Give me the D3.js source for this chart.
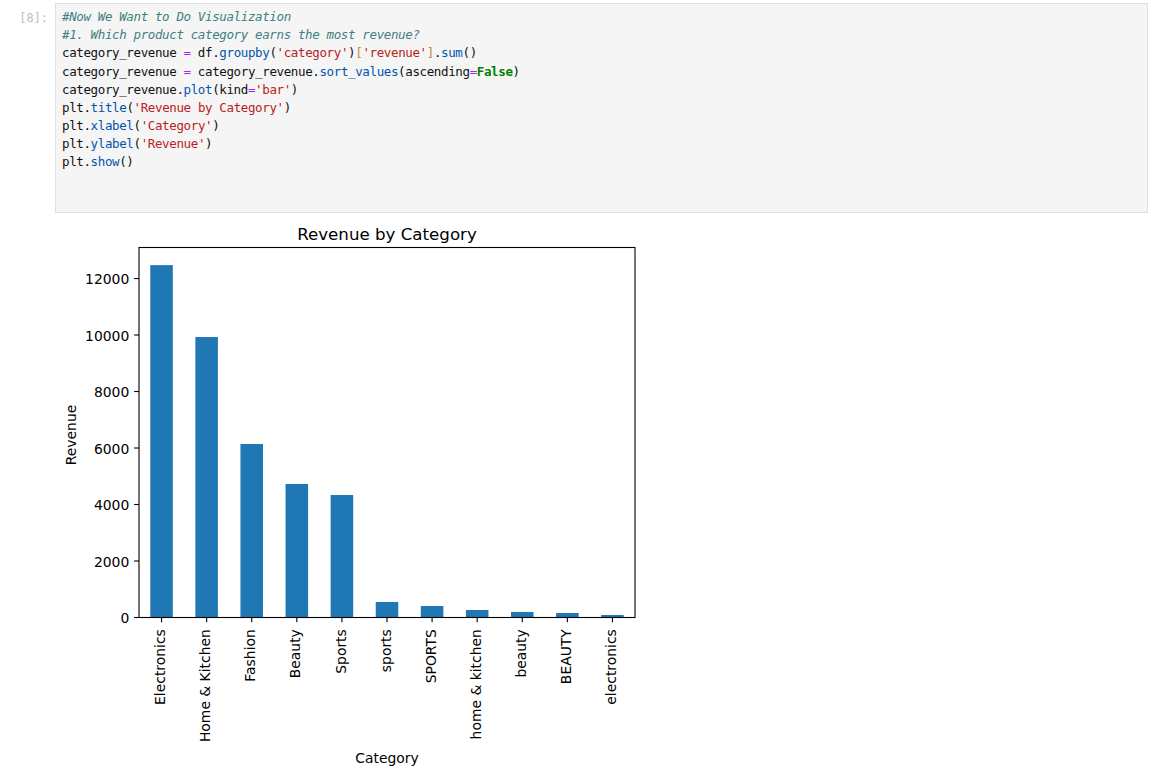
<!DOCTYPE html>
<html><head><meta charset="utf-8">
<script src="https://cdn.jsdelivr.net/npm/d3@7/dist/d3.min.js"></script>
<style>
html,body{margin:0;padding:0;background:#fff;overflow:hidden}
svg{display:block}
</style></head><body>
<svg id="page" width="1163" height="778"></svg>
<script>
const categories = ["Electronics","Home & Kitchen","Fashion","Beauty","Sports","sports","SPORTS","home & kitchen","beauty","BEAUTY","electronics"];
const revenue = [12474,9929,6142,4726,4336,549,407,265,195,159,88];
const yTicks = [0,2000,4000,6000,8000,10000,12000];
const titleText = "Revenue by Category";
const xLabelText = "Category";
const yLabelText = "Revenue";
const promptText = "[8]:";
const codeLines = [
 [["#Now We Want to Do Visualization","c"]],
 [["#1. Which product category earns the most revenue?","c"]],
 [["category_revenue ","n"],["=","o"],[" df.","n"],["groupby","p"],["(","n"],["'category'","s"],[")","n"],["[","b"],["'revenue'","s"],["]","b"],[".","n"],["sum","p"],["()","n"]],
 [["category_revenue ","n"],["=","o"],[" category_revenue.","n"],["sort_values","p"],["(ascending","n"],["=","o"],["False","k"],[")","n"]],
 [["category_revenue.","n"],["plot","p"],["(kind","n"],["=","o"],["'bar'","s"],[")","n"]],
 [["plt.","n"],["title","p"],["(","n"],["'Revenue by Category'","s"],[")","n"]],
 [["plt.","n"],["xlabel","p"],["(","n"],["'Category'","s"],[")","n"]],
 [["plt.","n"],["ylabel","p"],["(","n"],["'Revenue'","s"],[")","n"]],
 [["plt.","n"],["show","p"],["()","n"]]
];
const tokenColors = {c:"#408080",n:"#111111",o:"#aa22ff",p:"#0055aa",s:"#ba2121",b:"#c08a3a",k:"#008000"};

const svg = d3.select("#page");
const sans = "'DejaVu Sans'";
const mono = "'DejaVu Sans Mono'";

// notebook cell
svg.append("rect").attr("x",55.5).attr("y",3.5).attr("width",1092).attr("height",209)
  .attr("fill","#f5f5f5").attr("stroke","#e0e0e0");
svg.append("text").attr("x",48).attr("y",21.5).attr("text-anchor","end")
  .attr("font-family",mono).attr("font-size",11.9).attr("fill","#bdbdbd").text(promptText);

const lineY = d3.scaleLinear().domain([0,8]).range([21.2,166.2]);
const codeG = svg.append("g").attr("font-family",mono).attr("font-size",12.5).attr("letter-spacing",-0.375);
codeLines.forEach((tokens,i)=>{
  const t = codeG.append("text").attr("x",62).attr("y",lineY(i)).attr("xml:space","preserve").style("white-space","pre");
  tokens.forEach(([s,k])=>{
    t.append("tspan").text(s).attr("fill",tokenColors[k])
      .attr("font-style",k==="c"?"italic":null)
      .attr("font-weight",k==="k"?"bold":null);
  });
});

// chart
const m = {l:139,r:635,t:247.5,b:617.5};
const x = d3.scaleBand().domain(categories).range([m.l,m.r]).paddingInner(0.5).paddingOuter(0.25);
const y = d3.scaleLinear().domain([0,13098]).range([m.b,m.t]);

svg.append("g").selectAll("rect").data(categories).join("rect")
  .attr("x",d=>x(d)).attr("width",x.bandwidth())
  .attr("y",(d,i)=>y(revenue[i])).attr("height",(d,i)=>m.b-y(revenue[i]))
  .attr("fill","#1f77b4");

const yAxis = svg.append("g").attr("transform",`translate(${m.l},0)`)
  .call(d3.axisLeft(y).tickValues(yTicks).tickFormat(d3.format("d")).tickSize(4.86).tickPadding(4.86).offset(0));
yAxis.select(".domain").remove();
yAxis.selectAll("line").attr("stroke","#000").attr("stroke-width",1.1);
yAxis.selectAll("text").attr("font-family",sans).attr("font-size",13.9).attr("fill","#000").attr("dy","0.4em");

const xAxis = svg.append("g").attr("transform",`translate(0,${m.b})`)
  .call(d3.axisBottom(x).tickSize(4.86).tickPadding(0).offset(0));
xAxis.select(".domain").remove();
xAxis.selectAll("line").attr("stroke","#000").attr("stroke-width",1.1);
xAxis.selectAll("text").attr("font-family",sans).attr("font-size",13.9).attr("fill","#000")
  .attr("transform","translate(-1.2,11.7) rotate(-90)")
  .attr("text-anchor","end").attr("dy","0.35em").attr("x",0).attr("y",0);

svg.append("rect").attr("x",m.l).attr("y",m.t).attr("width",m.r-m.l).attr("height",m.b-m.t)
  .attr("fill","none").attr("stroke","#000").attr("stroke-width",1.1);

svg.append("text").attr("x",(m.l+m.r)/2).attr("y",240).attr("text-anchor","middle")
  .attr("font-family",sans).attr("font-size",16.67).attr("fill","#000").text(titleText);
svg.append("text").attr("x",(m.l+m.r)/2).attr("y",763).attr("text-anchor","middle")
  .attr("font-family",sans).attr("font-size",13.9).attr("fill","#000").text(xLabelText);
svg.append("text").attr("transform",`translate(76,${(m.t+m.b)/2+2.5}) rotate(-90)`).attr("text-anchor","middle")
  .attr("font-family",sans).attr("font-size",13.9).attr("fill","#000").text(yLabelText);
</script>
</body></html>
